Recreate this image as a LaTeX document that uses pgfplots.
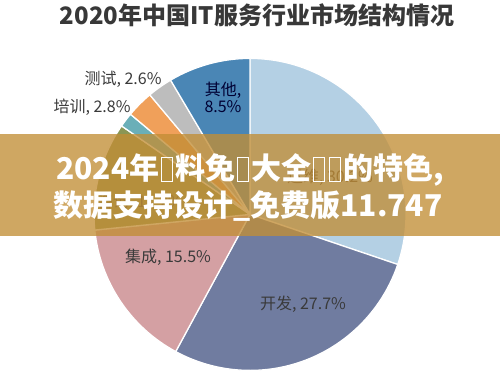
\documentclass[border=0pt]{standalone}
\usepackage{pgfplots}
\pgfplotsset{compat=1.18}
\usepackage{pgfplotstable}
\usepackage{fontspec}
\setmainfont{Noto Sans CJK SC}
\definecolor{cYW}{HTML}{B4D0E4}
\definecolor{cKF}{HTML}{707CA0}
\definecolor{cJC}{HTML}{D4A0A3}
\definecolor{cZX}{HTML}{8A9655}
\definecolor{cWB}{HTML}{6AAFB8}
\definecolor{cPX}{HTML}{F0A05A}
\definecolor{cCS}{HTML}{BDBDBD}
\definecolor{cQT}{HTML}{4A86B5}
\definecolor{banner}{HTML}{C28E36}
\definecolor{lbl}{HTML}{3A3A3A}
\pgfplotstableread{
label value
运维 30.2
开发 27.7
集成 15.5
咨询 11.2
外包 1.5
培训 2.8
测试 2.6
其他 8.5
}\pietable
\newcommand\slice[2]{\fill[#2,draw=white,line width=1.3pt] (axis cs:250,161.5) -- ++(\csname sA#1\endcsname:156bp) arc[start angle=\csname sA#1\endcsname, end angle=\csname sB#1\endcsname, radius=156bp] -- cycle;}
\newcommand\tofu{\hspace{0.06em}\raisebox{-0.06em}{\setlength\fboxsep{0pt}\setlength\fboxrule{1.1pt}\fbox{\rule{0pt}{0.78em}\hspace{0.34em}}}\hspace{0.06em}}
\begin{document}
\begin{tikzpicture}
\gdef\cum{90}
\foreach \i in {0,...,7}{%
 \pgfplotstablegetelem{\i}{value}\of\pietable
 \pgfmathsetmacro\endang{\cum-3.6*\pgfplotsretval}%
 \expandafter\xdef\csname sA\i\endcsname{\cum}%
 \expandafter\xdef\csname sB\i\endcsname{\endang}%
 \xdef\cum{\endang}%
}
\begin{axis}[width=500bp,height=382bp,scale only axis,hide axis,
  xmin=0,xmax=500,ymin=0,ymax=382,clip=false]
\slice{0}{cYW}
\slice{1}{cKF}
\slice{2}{cJC}
\slice{3}{cZX}
\slice{4}{cWB}
\slice{5}{cPX}
\slice{6}{cCS}
\slice{7}{cQT}
% title
\node[font=\bfseries\fontsize{24bp}{28bp}\selectfont,text=black!78] at (axis cs:257,361) {2020年中国IT服务行业市场结构情况};
% labels
\node[font=\fontsize{16bp}{18bp}\selectfont,text=lbl] at (axis cs:123,297) {测试, 2.6\%};
\node[font=\fontsize{16bp}{18bp}\selectfont,text=lbl] at (axis cs:92,268.5) {培训, 2.8\%};
\node[font=\fontsize{16bp}{18bp}\selectfont,text=black!80!blue,align=center] at (axis cs:223,278.5) {其他,\\[-1bp]8.5\%};
\node[font=\fontsize{16bp}{18bp}\selectfont,text=lbl] at (axis cs:168,118.5) {集成, 15.5\%};
\node[font=\fontsize{16bp}{18bp}\selectfont,text=lbl] at (axis cs:303,72) {开发, 27.7\%};
\node[font=\fontsize{16bp}{18bp}\selectfont,text=lbl] at (axis cs:330,199) {运维, 30.2\%};
\node[font=\fontsize{16bp}{18bp}\selectfont,text=lbl] at (axis cs:140,174) {咨询, 11.2\%};
% banner
\fill[banner,opacity=0.78] (axis cs:0,140) rectangle (axis cs:500,242);
\node[font=\bfseries\fontsize{30bp}{34bp}\selectfont,text=white] at (axis cs:250,206) {2024年\tofu 料免\tofu 大全\tofu\tofu 的特色,};
\node[font=\bfseries\fontsize{30bp}{34bp}\selectfont,text=white] at (axis cs:248,170) {数据支持设计\_免费版11.747};
\end{axis}
\end{tikzpicture}
\end{document}
